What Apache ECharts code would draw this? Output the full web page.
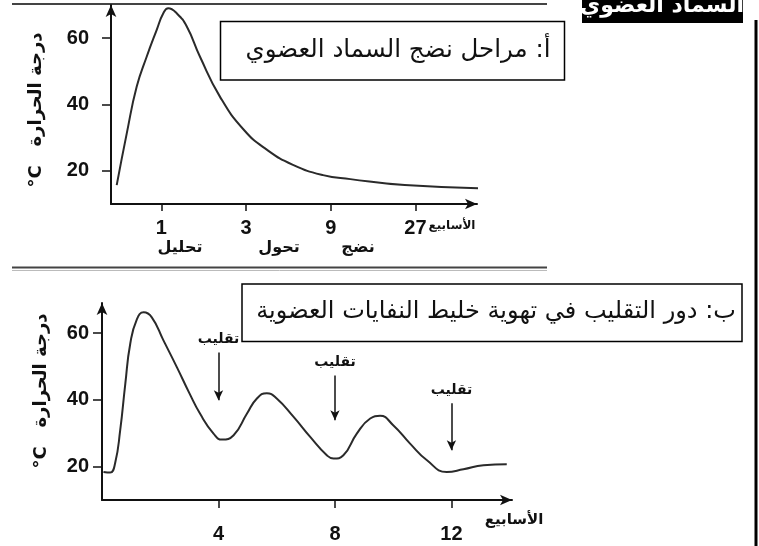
<!DOCTYPE html>
<html>
<head>
<meta charset="utf-8">
<script src="https://cdn.jsdelivr.net/npm/echarts@6/dist/echarts.min.js"></script>
<style>html,body{margin:0;padding:0;background:#fff}#c{width:759px;height:546px}</style>
</head>
<body>
<div id="c"></div>
<script>
// Chart A: maturation of compost (log-scaled weeks)
const weeksA = [0.56, 0.638, 0.726, 0.826, 0.941, 1.025, 1.093, 1.22, 1.39, 1.65, 2.14, 2.92, 3.94, 5.51, 8.14, 11.6, 23.5, 71];
const tempA  = [15.7, 31.3, 45.4, 54.4, 62.5, 67.5, 69.0, 67.5, 63.5, 54.4, 42.3, 32.3, 26.3, 21.8, 18.7, 17.5, 15.7, 14.7];
const ticksA = [1, 3, 9, 27];
const stagesA = ['تحليل', 'تحول', 'نضج'];

// Chart B: role of turning
const weeksB = [0.05, 0.28, 0.45, 0.625, 0.8, 0.97, 1.2, 1.43, 1.71, 2.11, 2.57, 3.0, 3.37, 3.83, 4.12, 4.52, 4.98, 5.32, 5.66, 6.0, 6.58, 7.15, 7.72, 7.95, 8.29, 8.75, 9.21, 9.55, 10.0, 10.58, 11.16, 11.84, 12.41, 13.1, 13.9];
const tempB  = [18.4, 18.2, 21, 30.9, 44.8, 56.8, 64.2, 66.2, 64.7, 57.8, 49.8, 42.0, 35.8, 29.9, 28.1, 29.4, 35.9, 40.4, 42, 40.4, 34.9, 28.9, 23.4, 22.4, 23.4, 29.9, 34.4, 35.2, 32.4, 26.9, 21.9, 18.4, 19.2, 20.4, 20.7];
const ticksB = [4, 8, 12];
const flipWeeks = [4, 8, 12];
const flipFrom  = [54.2, 47.3, 39.0];
const flipTo    = [39.9, 33.9, 24.9];
const tempTicks = [20, 40, 60];

const titleA = 'أ: مراحل نضج السماد العضوي';
const titleB = 'ب: دور التقليب في تهوية خليط النفايات العضوية';
const headTag = 'السماد العضوي';
const yName = '°C   درجة الحرارة';
const xName = 'الأسابيع';
const flipLabel = 'تقليب';

const AR = '"DejaVu Sans", sans-serif';
const NUM = '"Liberation Sans", Arial, sans-serif';

const chart = echarts.init(document.getElementById('c'), null, {renderer: 'canvas'});

const axisLineStyle = {show: true, lineStyle: {color: '#111', width: 2}, symbol: ['none', 'arrow'], symbolSize: [8, 12]};
const numLabel = {color: '#111', fontFamily: NUM, fontWeight: 'bold', fontSize: 20};

function txt(x, y, text, opts) {
  return Object.assign({type: 'text', x: x, y: y, style: Object.assign({text: text, fill: '#111', fontFamily: AR, fontWeight: 'bold', fontSize: 15, align: 'center', verticalAlign: 'middle'}, opts && opts.style || {})}, opts && opts.extra || {});
}

const option = {
  animation: false,
  grid: [
    {left: 111, top: 5, width: 366, height: 199, containLabel: false},
    {left: 102, top: 303, width: 410, height: 197, containLabel: false}
  ],
  xAxis: [
    {gridIndex: 0, type: 'log', logBase: 3, min: 0.52, max: 60,
      axisLine: axisLineStyle,
      axisTick: {show: true, length: 7, lineStyle: {color: '#111', width: 1.5}, customValues: ticksA},
      axisLabel: Object.assign({margin: 14, customValues: ticksA, formatter: v => String(Math.round(v))}, numLabel),
      splitLine: {show: false}, minorTick: {show: false}},
    {gridIndex: 1, type: 'value', min: 0, max: 14.08,
      axisLine: axisLineStyle,
      axisTick: {show: true, length: 8, lineStyle: {color: '#111', width: 1.5}, customValues: ticksB},
      axisLabel: Object.assign({margin: 24, customValues: ticksB}, numLabel),
      splitLine: {show: false}}
  ],
  yAxis: [
    {gridIndex: 0, type: 'value', min: 10, max: 70,
      axisLine: axisLineStyle,
      axisTick: {show: true, length: 9, lineStyle: {color: '#111', width: 1.5}, customValues: tempTicks},
      axisLabel: Object.assign({margin: 22, customValues: tempTicks}, numLabel),
      splitLine: {show: false}},
    {gridIndex: 1, type: 'value', min: 10, max: 69,
      axisLine: axisLineStyle,
      axisTick: {show: true, length: 9, lineStyle: {color: '#111', width: 1.5}, customValues: tempTicks},
      axisLabel: Object.assign({margin: 13, customValues: tempTicks}, numLabel),
      splitLine: {show: false}}
  ],
  series: [
    {type: 'line', xAxisIndex: 0, yAxisIndex: 0, smooth: 0.5, symbol: 'none', clip: false,
      lineStyle: {color: '#2a2a2a', width: 2},
      data: weeksA.map((w, i) => [w, tempA[i]])},
    {type: 'line', xAxisIndex: 1, yAxisIndex: 1, smooth: 0.5, symbol: 'none', clip: false,
      lineStyle: {color: '#2a2a2a', width: 2},
      data: weeksB.map((w, i) => [w, tempB[i]]),
      markLine: {
        silent: true, symbol: ['none', 'arrow'], symbolSize: [7, 10], precision: 2,
        lineStyle: {color: '#111', width: 1.5, type: 'solid'},
        label: {show: true, position: 'start', formatter: flipLabel, color: '#111', fontFamily: AR, fontWeight: 'bold', fontSize: 14, distance: 6},
        emphasis: {disabled: true},
        data: flipWeeks.map((w, i) => [{coord: [w, flipFrom[i]]}, {coord: [w, flipTo[i]]}])
      }}
  ],
  graphic: [
    {type: 'line', shape: {x1: 12, y1: 4, x2: 547, y2: 4}, style: {stroke: '#444', lineWidth: 2}},
    {type: 'line', shape: {x1: 12, y1: 267.5, x2: 547, y2: 267.5}, style: {stroke: '#444', lineWidth: 2}},
    {type: 'line', shape: {x1: 12, y1: 270.5, x2: 547, y2: 270.5}, style: {stroke: '#bbb', lineWidth: 1}},
    {type: 'line', shape: {x1: 756, y1: 20, x2: 756, y2: 546}, style: {stroke: '#000', lineWidth: 3}},
    {type: 'rect', shape: {x: 582, y: 0, width: 161, height: 23}, style: {fill: '#000'}},
    txt(662, 6, headTag, {style: {fill: '#fff', fontSize: 22}}),
    {type: 'rect', shape: {x: 220.5, y: 21.5, width: 344, height: 58.5}, style: {fill: '#fff', stroke: '#000', lineWidth: 1.5}},
    txt(398, 51, titleA, {style: {fontWeight: 'normal', fontSize: 24.5}}),
    {type: 'rect', shape: {x: 242, y: 284, width: 500, height: 57.5}, style: {fill: '#fff', stroke: '#000', lineWidth: 1.5}},
    txt(496, 312, titleB, {style: {fontWeight: 'normal', fontSize: 24}}),
    txt(180, 248, stagesA[0], {style: {fontSize: 16}}),
    txt(279, 248, stagesA[1], {style: {fontSize: 16}}),
    txt(358, 248, stagesA[2], {style: {fontSize: 16}}),
    txt(452, 226, xName, {style: {fontSize: 12}}),
    txt(514, 520, xName, {style: {fontSize: 15}}),
    txt(36, 110, yName, {style: {fontSize: 18}, extra: {rotation: Math.PI / 2}}),
    txt(41, 391, yName, {style: {fontSize: 18}, extra: {rotation: Math.PI / 2}})
  ]
};
chart.setOption(option);
</script>
</body>
</html>
